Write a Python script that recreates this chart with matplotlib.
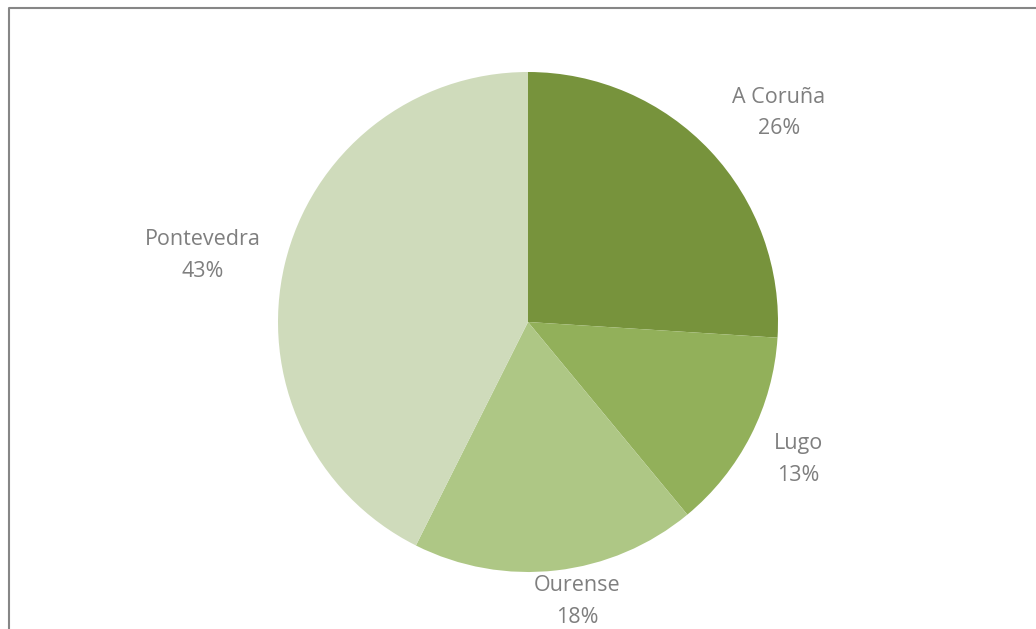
import numpy as np
import matplotlib
matplotlib.use("Agg")
import matplotlib.pyplot as plt
from matplotlib.lines import Line2D

# Data (share by province)
provinces = ["A Coruña", "Lugo", "Ourense", "Pontevedra"]
shares = [26.0, 13.0, 18.4, 42.6]

colors = ["#77933c", "#92b05a", "#aec785", "#cfdbbb"]
label_r = [1.306, 1.215, 1.135, 1.328]   # label distance from centre (radius units)
label_turn = [-3.4, 0.0, 3.5, 1.7]       # small angular nudge of labels (deg, ccw)

W, H = 1036, 629
CX, CY, R = 528, 322, 250   # pie centre / radius in pixels

plt.rcParams["font.family"] = ["Open Sans", "DejaVu Sans"]

fig = plt.figure(figsize=(W / 100, H / 100), dpi=100)
ax = fig.add_axes([0, 0, 1, 1])

wedges, _ = ax.pie(shares, colors=colors, startangle=90, counterclock=False,
                   radius=1, center=(0, 0), frame=True,
                   wedgeprops=dict(linewidth=0))
ax.set_xlim(-CX / R, (W - CX) / R)
ax.set_ylim(-(H - CY) / R, CY / R)
ax.set_aspect("auto")
ax.axis("off")

total = sum(shares)
for w, name, val, d, t in zip(wedges, provinces, shares, label_r, label_turn):
    mid = np.deg2rad((w.theta1 + w.theta2) / 2 + t)
    ax.text(d * np.cos(mid), d * np.sin(mid), f"{name}\n{val / total * 100:.0f}%",
            ha="center", va="center", fontsize=15.5, color="#7f7f7f",
            linespacing=1.68)

# chart frame (only top and left edges visible)
fx = 9 / W
fy = 1 - 7.5 / H
fig.add_artist(Line2D([fx, fx, 1], [0, fy, fy], transform=fig.transFigure,
                      color="#868686", lw=1.5))

fig.savefig("out.png", dpi=100, facecolor="white")
